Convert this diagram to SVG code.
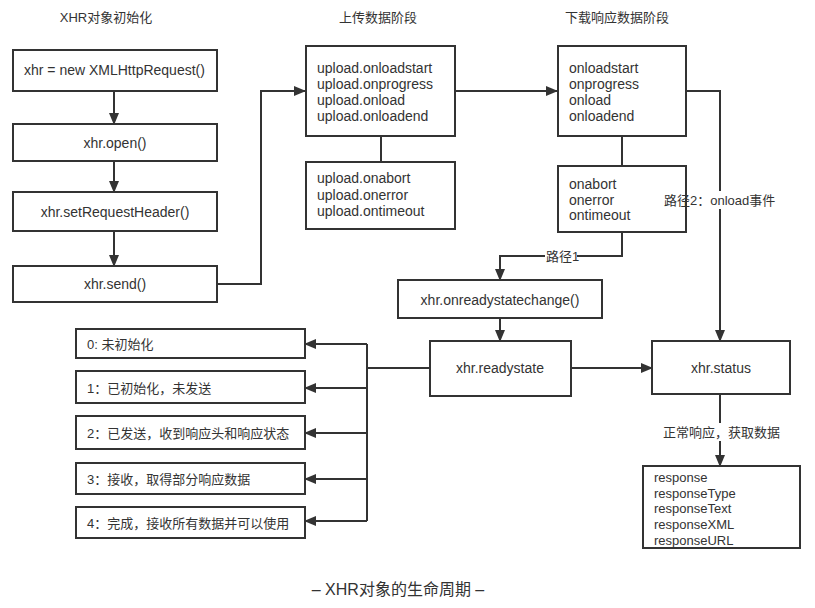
<svg xmlns="http://www.w3.org/2000/svg" width="815" height="608" viewBox="0 0 815 608">
<style>
text{font-family:"Liberation Sans","Noto Sans CJK SC",sans-serif;fill:#333;dominant-baseline:central}
.t{font-size:13px}
.n{font-size:14px}
.s{font-size:13px}
.c{text-anchor:middle}
.box{fill:#fff;stroke:#333;stroke-width:2}
.ln{fill:none;stroke:#333;stroke-width:2}
.bg{fill:#fff}
</style>
<defs>
<marker id="ar" markerUnits="userSpaceOnUse" markerWidth="12" markerHeight="10" refX="11" refY="5" orient="auto">
<path d="M0,0 L12,5 L0,10 z" fill="#333"/>
</marker>
</defs>
<g id="titles">
<text class="t c" x="106" y="17">XHR对象初始化</text>
<text class="t c" x="378" y="17">上传数据阶段</text>
<text class="t c" x="617" y="17">下载响应数据阶段</text>
<text class="c" x="398" y="589" style="font-size:16px">– XHR对象的生命周期 –</text>
</g>
<g id="connectors">
<path class="ln" d="M114,91 V124" marker-end="url(#ar)"/>
<path class="ln" d="M114,161 V192" marker-end="url(#ar)"/>
<path class="ln" d="M114,231 V266" marker-end="url(#ar)"/>
<path class="ln" d="M217,284 H261 V91 H305" marker-end="url(#ar)"/>
<path class="ln" d="M455,91 H557" marker-end="url(#ar)"/>
<path class="ln" d="M381,136 V162"/>
<path class="ln" d="M622,136 V166"/>
<path class="ln" d="M686,91 H720 V341" marker-end="url(#ar)"/>
<path class="ln" d="M622,232 V256 H500 V280" marker-end="url(#ar)"/>
<path class="ln" d="M500,318 V341" marker-end="url(#ar)"/>
<path class="ln" d="M571,368 H652" marker-end="url(#ar)"/>
<path class="ln" d="M720,394 V466" marker-end="url(#ar)"/>
<path class="ln" d="M430,368 H367 M367,344 V521"/>
<path class="ln" d="M367,344 H305" marker-end="url(#ar)"/>
<path class="ln" d="M367,388 H305" marker-end="url(#ar)"/>
<path class="ln" d="M367,433 H305" marker-end="url(#ar)"/>
<path class="ln" d="M367,479 H305" marker-end="url(#ar)"/>
<path class="ln" d="M367,521 H305" marker-end="url(#ar)"/>
</g>
<g id="n-new"><rect class="box" x="13" y="50" width="204" height="41"/><text class="n" x="24" y="70">xhr = new XMLHttpRequest()</text></g>
<g id="n-open"><rect class="box" x="13" y="124" width="204" height="37"/><text class="n c" x="115" y="143">xhr.open()</text></g>
<g id="n-setheader"><rect class="box" x="13" y="192" width="204" height="39"/><text class="n c" x="115" y="212">xhr.setRequestHeader()</text></g>
<g id="n-send"><rect class="box" x="13" y="266" width="204" height="36"/><text class="n c" x="115" y="284">xhr.send()</text></g>
<g id="n-upload"><rect class="box" x="306" y="46" width="149" height="90"/>
<text class="n" x="317" y="68">upload.onloadstart</text>
<text class="n" x="317" y="84">upload.onprogress</text>
<text class="n" x="317" y="100">upload.onload</text>
<text class="n" x="317" y="116">upload.onloadend</text></g>
<g id="n-upload-err"><rect class="box" x="306" y="162" width="149" height="67"/>
<text class="n" x="317" y="178">upload.onabort</text>
<text class="n" x="317" y="195">upload.onerror</text>
<text class="n" x="317" y="211">upload.ontimeout</text></g>
<g id="n-download"><rect class="box" x="558" y="46" width="128" height="90"/>
<text class="n" x="569" y="68">onloadstart</text>
<text class="n" x="569" y="84">onprogress</text>
<text class="n" x="569" y="100">onload</text>
<text class="n" x="569" y="116">onloadend</text></g>
<g id="n-download-err"><rect class="box" x="558" y="166" width="128" height="66"/>
<text class="n" x="569" y="184">onabort</text>
<text class="n" x="569" y="200">onerror</text>
<text class="n" x="569" y="215">ontimeout</text></g>
<g id="n-orsc"><rect class="box" x="398" y="280" width="204" height="38"/><text class="n c" x="500" y="300">xhr.onreadystatechange()</text></g>
<g id="n-readystate"><rect class="box" x="430" y="341" width="141" height="55"/><text class="n c" x="500" y="368">xhr.readystate</text></g>
<g id="n-status"><rect class="box" x="652" y="341" width="138" height="53"/><text class="n c" x="721" y="368">xhr.status</text></g>
<g id="n-response"><rect class="box" x="643" y="466" width="157" height="82"/>
<text class="s" x="654" y="477">response</text>
<text class="s" x="654" y="493">responseType</text>
<text class="s" x="654" y="508">responseText</text>
<text class="s" x="654" y="524">responseXML</text>
<text class="s" x="654" y="540">responseURL</text></g>
<g id="n-state0"><rect class="box" x="76" y="329" width="229" height="29"/><text class="t" x="87" y="344">0: 未初始化</text></g>
<g id="n-state1"><rect class="box" x="76" y="371" width="229" height="32"/><text class="t" x="87" y="388">1：已初始化，未发送</text></g>
<g id="n-state2"><rect class="box" x="76" y="416" width="229" height="33"/><text class="t" x="87" y="433">2：已发送，收到响应头和响应状态</text></g>
<g id="n-state3"><rect class="box" x="76" y="463" width="229" height="31"/><text class="t" x="87" y="479">3：接收，取得部分响应数据</text></g>
<g id="n-state4"><rect class="box" x="76" y="507" width="229" height="31"/><text class="t" x="87" y="523">4：完成，接收所有数据并可以使用</text></g>
<g id="connector-labels">
<rect class="bg" x="688" y="191" width="90" height="18"/>
<text class="t" x="664" y="200">路径2：onload事件</text>
<rect class="bg" x="545" y="247" width="32" height="18"/>
<text class="t" x="546" y="256">路径1</text>
<rect class="bg" x="662" y="423" width="118" height="18"/>
<text class="t" x="663" y="432">正常响应，获取数据</text>
</g>
</svg>
